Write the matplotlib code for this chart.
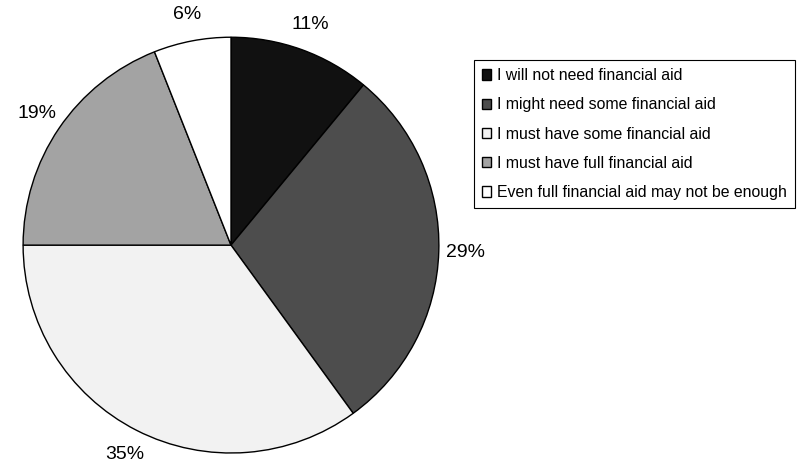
import matplotlib.pyplot as plt

plt.rcParams['font.family'] = ['Liberation Sans', 'DejaVu Sans']

# Dane wykresu
labels = ["I will not need financial aid",
          "I might need some financial aid",
          "I must have some financial aid",
          "I must have full financial aid",
          "Even full financial aid may not be enough"]
values = [11, 29, 35, 19, 6]
colors = ["#111111", "#4d4d4d", "#f2f2f2", "#a3a3a3", "#ffffff"]

fig = plt.figure(figsize=(8.06, 4.63), dpi=100)
ax = fig.add_axes([0.0286, 0.0216, 0.516, 0.898])

wedges, texts = ax.pie(values, colors=colors, startangle=90, counterclock=False,
                       labels=[f"{v}%" for v in values], labeldistance=1.13,
                       wedgeprops=dict(edgecolor="black", linewidth=1.0),
                       textprops=dict(fontsize=14))
for t in texts:
    t.set_horizontalalignment('center')
    t.set_verticalalignment('center')
ax.set_xlim(-1, 1)
ax.set_ylim(-1, 1)
ax.set_aspect('equal')

leg = fig.legend(wedges, labels, loc='upper left', bbox_to_anchor=(0.588, 0.870),
                 fontsize=11.4, handlelength=0.6, handleheight=0.6, handletextpad=0.35,
                 labelspacing=0.9, borderpad=0.5, borderaxespad=0,
                 fancybox=False, framealpha=1)
leg.get_frame().set_edgecolor('black')
leg.get_frame().set_linewidth(0.8)

plt.savefig("out.png", dpi=100)
